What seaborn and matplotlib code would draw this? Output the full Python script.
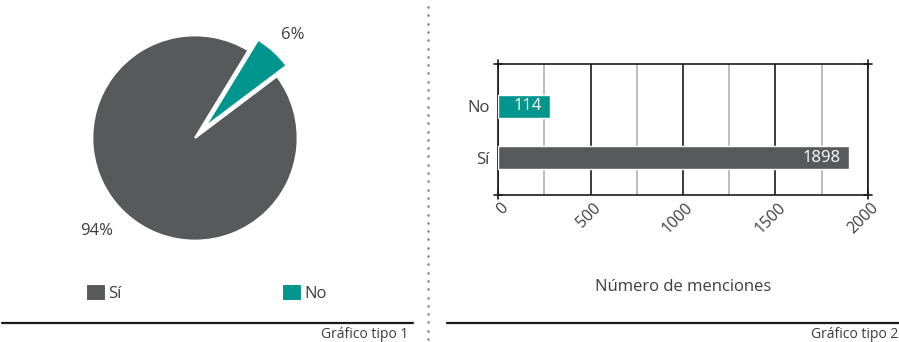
import matplotlib
matplotlib.use("Agg")

import matplotlib.pyplot as plt
import matplotlib.transforms as mtrans
from matplotlib.lines import Line2D
import seaborn as sns
import pandas as pd
import numpy as np

# datos
categorias = ["Sí", "No"]
porcentajes = [94, 6]
menciones = [1898, 114]
xticks_bar = [0, 500, 1000, 1500, 2000]

GRIS = "#58595b"
VERDE = "#00958d"
TEXTO = "#3d3d3d"
MIN_BAR = 280  # ancho mínimo visible de la barra

sns.set_theme(style="white")
plt.rcParams["font.family"] = ["Open Sans", "DejaVu Sans"]
plt.rcParams["text.color"] = TEXTO

W, H = 899, 342
fig = plt.figure(figsize=(W / 100, H / 100), dpi=100)


def fx(px):
    return px / W


def fy(py):
    return 1 - py / H


# ---- gráfico 1: tarta
ax1 = fig.add_axes([fx(41), fy(292), 308 / W, 308 / H])
wedges, _, autotexts = ax1.pie(
    porcentajes, colors=[GRIS, VERDE], explode=[0, 0.14], startangle=58.6,
    autopct="%.0f%%", pctdistance=1.3,
    wedgeprops={"edgecolor": "white", "linewidth": 1.5},
    textprops={"fontsize": 12, "color": TEXTO})
# colocar etiquetas un poco más como en el original
for w, t, d, off in zip(wedges, autotexts, [1.32, 1.24], [-4.5, -1.5]):
    ang = np.deg2rad((w.theta1 + w.theta2) / 2 + off)
    cx, cy = w.center
    t.set_position((cx + d * np.cos(ang), cy + d * np.sin(ang)))
ax1.set_xlim(-1.5, 1.5)
ax1.set_ylim(-1.5, 1.5)
ax1.set_aspect("equal")

fig.legend(wedges, categorias, loc="center left",
           bbox_to_anchor=(fx(86), fy(293)), ncol=2, frameon=False,
           fontsize=12, handlelength=1.2, handleheight=1.2,
           handletextpad=0.15, columnspacing=9.6, borderpad=0,
           borderaxespad=0)

# ---- gráfico 2: barras
ax2 = fig.add_axes([fx(498), fy(195), (868 - 498) / W, (195 - 64) / H])
df = pd.DataFrame({"cat": categorias, "n": menciones})
df["largo"] = np.maximum(df["n"], MIN_BAR)
sns.barplot(data=df, x="largo", y="cat", order=["No", "Sí"], hue="cat",
            palette={"Sí": GRIS, "No": VERDE}, width=0.45, saturation=1,
            legend=False, ax=ax2, zorder=3)
for i, c in enumerate(["No", "Sí"]):
    row = df[df["cat"] == c].iloc[0]
    ax2.text(row["largo"] - 45, i, str(row["n"]), ha="right", va="center",
             color="white", fontsize=12, zorder=4)

ax2.set_xlim(0, 2000)
ax2.set_ylim(1.735, -0.833)
ax2.set_xticks(xticks_bar)
ax2.set_xticks([250, 750, 1250, 1750], minor=True)
ax2.grid(axis="x", which="major", color="#1a1a1a", linewidth=1.2, zorder=1)
ax2.grid(axis="x", which="minor", color="#b0b0b0", linewidth=1.2, zorder=1)
ax2.set_axisbelow(True)
for s in ax2.spines.values():
    s.set_color("#1a1a1a")
    s.set_linewidth(1.2)
ax2.tick_params(axis="both", which="both", length=0, colors=TEXTO,
                labelsize=11.5)
ax2.tick_params(axis="y", pad=6, labelsize=12)
plt.setp(ax2.get_xticklabels(), rotation=45, ha="right", va="center",
         rotation_mode="anchor")
for lab in ax2.get_xticklabels():
    lab.set_transform(lab.get_transform() +
                      mtrans.ScaledTranslation(0.08, -0.06, fig.dpi_scale_trans))
ax2.set_xlabel("Número de menciones", fontsize=12, labelpad=30, color=TEXTO)
ax2.set_ylabel("")

# pequeñas prolongaciones en las esquinas
for xa in (0, 1):
    for ya in (0, 1):
        ax2.plot([xa, xa], [ya - 0.03, ya + 0.03], color="#1a1a1a", lw=1.2,
                 transform=ax2.transAxes, clip_on=False)
        ax2.plot([xa - 0.01, xa + 0.01], [ya, ya], color="#1a1a1a", lw=1.2,
                 transform=ax2.transAxes, clip_on=False)

# ---- adornos de la página
fig.add_artist(Line2D([fx(2), fx(413)], [fy(323), fy(323)], color="#1a1a1a",
                      lw=1.6))
fig.add_artist(Line2D([fx(447), fx(899)], [fy(323), fy(323)], color="#1a1a1a",
                      lw=1.6))
puntos_y = np.arange(7, 342, 8.3)
fig.add_artist(Line2D(np.full(len(puntos_y), fx(428)), fy(puntos_y),
                      linestyle="none", marker="o", markersize=1.9,
                      markeredgewidth=0, color="#8a8a8a"))
fig.text(fx(408), fy(334), "Gráfico tipo 1", ha="right", va="center",
         fontsize=10, color=TEXTO)
fig.text(fx(898), fy(334), "Gráfico tipo 2", ha="right", va="center",
         fontsize=10, color=TEXTO)

fig.savefig("out.png", dpi=100)
